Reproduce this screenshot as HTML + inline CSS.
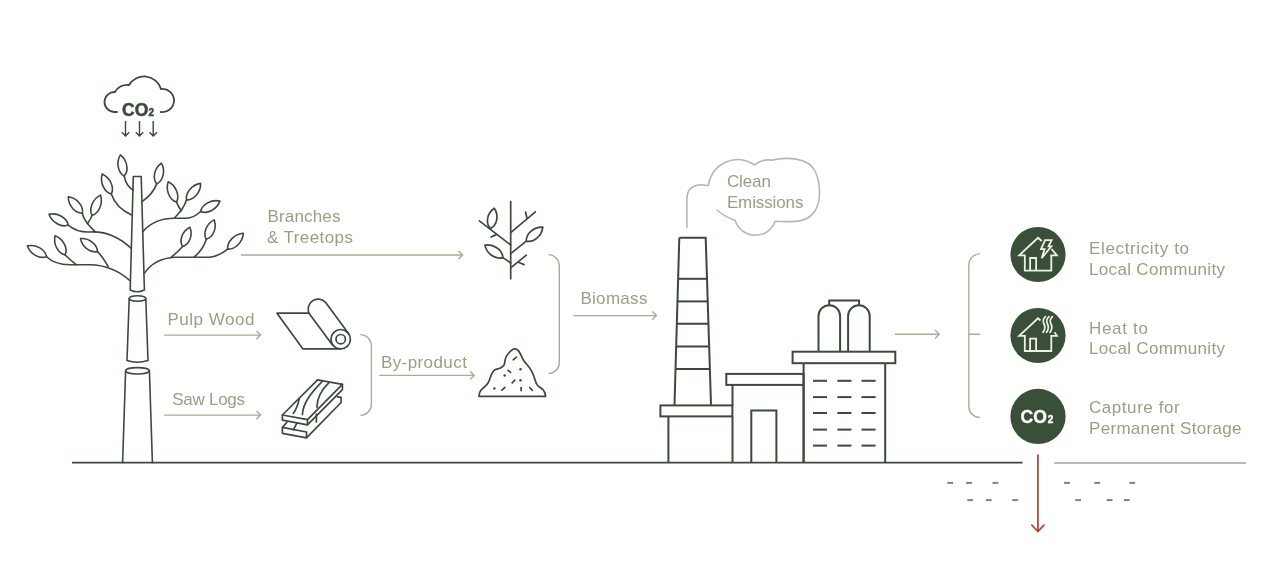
<!DOCTYPE html>
<html><head><meta charset="utf-8"><style>
html,body{margin:0;padding:0;background:#fff;width:1280px;height:575px;overflow:hidden}
svg{display:block;will-change:transform}
</style></head><body>
<svg width="1280" height="575" viewBox="0 0 1280 575">
<rect width="1280" height="575" fill="#fff"/>
<g fill="none" stroke="#3c4a3c" stroke-width="1.6" stroke-linecap="round" stroke-linejoin="round"><path d="M133.3,176.5 L141.2,176.5 L144.4,290 Q137.3,293.5 130.2,290 Z"/><path d="M129.2,298.5 L127,360.5 Q137.4,364 148,360.5 L145.8,298.5"/><ellipse cx="137.5" cy="298.5" rx="8.3" ry="2.7"/><path d="M125.6,370.8 L122.6,462.7 M149.4,370.8 L152.4,462.7"/><ellipse cx="137.5" cy="370.8" rx="11.9" ry="3.2"/><path d="M133.2,190.4 Q125.5,185 124.3,176.1"/><path d="M131.6,214.9 Q116,208 111.3,194"/><path d="M142.1,201.6 Q153,194 156.7,183.9"/><path d="M131,248.2 C118,236 105,231 90,232 C80,232.5 74,230 68.3,225.1"/><path d="M95.4,231.8 Q89,226 87.5,223.4"/><path d="M87.5,223.4 Q83,218 82.4,213.2"/><path d="M87.5,223.4 Q91,219 92,215.4"/><path d="M130.3,281 C118,270 105,265 90,264.8 L70,264.8 C60,264.5 52,262 46.6,256.7"/><path d="M76.5,264.8 Q70,260 65.2,255"/><path d="M108.2,266.5 Q102,256 97.5,251.6"/><path d="M142.6,231.9 C150,223 162,218.3 175,218.3 L185.9,218.3 C192,218 197,215 200.6,211.5"/><path d="M174.5,218 Q179,213 181.2,210.5"/><path d="M181.2,210.5 Q178,206 176.5,202.1"/><path d="M181.2,210.5 Q185,205 186.5,200.1"/><path d="M144.3,273.4 C150,265 160,258 175,257.3 L210,257.3 C218,256 223,253 227.6,249.1"/><path d="M171,257.3 Q178,252 182.6,246.6"/><path d="M194.2,257 Q203,250 206.3,239.3"/><path d="M124.3,176.1 C129.1,170.4 127.2,160.2 120.4,154.8 C115.9,162.2 117.8,172.4 124.3,176.1Z"/><path d="M111.3,194.0 C114.5,187.2 110.2,177.6 102.2,173.9 C99.7,182.3 104.1,191.9 111.3,194.0Z"/><path d="M156.7,183.9 C163.3,180.6 165.6,170.6 161.4,163.1 C154.4,168.1 152.1,178.1 156.7,183.9Z"/><path d="M68.3,225.1 C66.9,217.7 57.6,212.5 49.0,214.3 C52.0,222.5 61.3,227.7 68.3,225.1Z"/><path d="M82.4,213.2 C83.6,205.9 76.9,198.0 68.3,196.8 C68.2,205.5 75.0,213.3 82.4,213.2Z"/><path d="M92.0,215.4 C99.2,213.1 103.2,203.4 100.5,195.1 C92.7,199.0 88.6,208.7 92.0,215.4Z"/><path d="M46.6,256.7 C45.2,249.3 36.0,244.1 27.4,245.9 C30.3,254.1 39.6,259.3 46.6,256.7Z"/><path d="M65.2,255.0 C68.1,248.1 63.2,238.8 55.1,235.7 C53.1,244.1 57.9,253.4 65.2,255.0Z"/><path d="M97.5,251.6 C97.2,244.2 89.1,237.9 80.5,238.6 C82.1,247.1 90.3,253.3 97.5,251.6Z"/><path d="M200.6,211.5 C207.6,214.3 216.8,209.3 219.9,201.1 C211.4,199.2 202.1,204.2 200.6,211.5Z"/><path d="M176.5,202.1 C180.0,195.5 176.0,185.7 168.2,181.8 C165.4,190.1 169.4,199.8 176.5,202.1Z"/><path d="M186.5,200.1 C194.0,200.1 200.8,192.1 200.6,183.4 C192.0,184.7 185.2,192.7 186.5,200.1Z"/><path d="M227.6,249.1 C235.1,249.7 242.7,242.1 243.4,233.3 C234.6,234.0 227.0,241.6 227.6,249.1Z"/><path d="M182.6,246.6 C189.6,244.4 193.1,235.0 189.9,227.2 C182.3,231.0 178.8,240.3 182.6,246.6Z"/><path d="M206.3,239.3 C213.3,237.2 217.1,227.9 214.2,219.9 C206.5,223.6 202.7,232.9 206.3,239.3Z"/></g><g fill="none" stroke="#3c4a3c" stroke-width="1.8" stroke-linecap="round"><path d="M117,112 L114,112 A10,10 0 0 1 115,92 A14,14 0 0 1 129,85 A17.6,17.6 0 0 1 161,89 A11.6,11.6 0 1 1 160.8,112"/></g><g fill="none" stroke="#3c4a3c" stroke-width="1.4"><path d="M125.5,121 V136 M121.8,132.2 L125.5,136 L129.2,132.2"/><path d="M139.5,121 V136 M135.8,132.2 L139.5,136 L143.2,132.2"/><path d="M153.2,121 V136 M149.5,132.2 L153.2,136 L156.9,132.2"/></g><text x="122" y="115.7" font-family="Liberation Sans" font-weight="bold" font-size="17.5" fill="#3c4a3c" stroke="#3c4a3c" stroke-width="0.5">CO<tspan font-size="10" dx="0.3">2</tspan></text><path d="M72,462.7 H1022.6" stroke="#3c4a3c" stroke-width="1.7" fill="none"/><path d="M1054.3,463 H1245.9" stroke="#b9bbb3" stroke-width="2" fill="none"/><g fill="none" stroke="#a9ab96" stroke-width="1.35" stroke-linecap="butt" stroke-linejoin="miter"><path d="M241,255 H463 M458.4,250.8 L462.6,255 L458.4,259.2"/><path d="M164.1,335.1 H261 M256.4,330.90000000000003 L260.6,335.1 L256.4,339.3"/><path d="M164.1,415.1 H261 M256.4,410.90000000000003 L260.6,415.1 L256.4,419.3"/><path d="M379.3,375.4 H474.6 M470.0,371.2 L474.20000000000005,375.4 L470.0,379.59999999999997"/><path d="M573.4,315.6 H656.9 M652.3,311.40000000000003 L656.5,315.6 L652.3,319.8"/><path d="M895,334.2 H939.6 M935.0,330.0 L939.2,334.2 L935.0,338.4"/><path d="M360.5,334.7 A11,11 0 0 1 371.4,345.6 V404 A11,11 0 0 1 360.5,415.3"/><path d="M548.5,254.7 A11,11 0 0 1 559.3,265.6 V362.6 A11,11 0 0 1 548.5,373.6"/><path d="M979.9,253.9 A11,11 0 0 0 968.8,265 V406.4 A11,11 0 0 0 979.9,417.4 M968.8,334.2 H979.9"/></g><g font-family="Liberation Sans" font-size="17" fill="#9b9e85"><text x="267.5" y="222" textLength="73" lengthAdjust="spacing">Branches</text><text x="267" y="243" textLength="86" lengthAdjust="spacing">&amp; Treetops</text><text x="167.5" y="325.2" textLength="87" lengthAdjust="spacing">Pulp Wood</text><text x="172.3" y="404.6" textLength="72.7" lengthAdjust="spacing">Saw Logs</text><text x="380.9" y="367.6" textLength="86" lengthAdjust="spacing">By-product</text><text x="580.4" y="304.2" textLength="67" lengthAdjust="spacing">Biomass</text><text x="726.9" y="186.9" textLength="44" lengthAdjust="spacing">Clean</text><text x="726.9" y="207.7" textLength="76.5" lengthAdjust="spacing">Emissions</text><text x="1089" y="254.2" textLength="100" lengthAdjust="spacing">Electricity to</text><text x="1089" y="274.5" textLength="136" lengthAdjust="spacing">Local Community</text><text x="1089" y="333.6" textLength="59" lengthAdjust="spacing">Heat to</text><text x="1089" y="353.8" textLength="136" lengthAdjust="spacing">Local Community</text><text x="1089" y="413.2" textLength="90.6" lengthAdjust="spacing">Capture for</text><text x="1089" y="433.8" textLength="152.4" lengthAdjust="spacing">Permanent Storage</text></g><path fill="none" stroke="#b5b9b2" stroke-width="1.6" stroke-linecap="round" d="M686.9,227.4 V199 Q687,185 702,184.8 L708.3,185.7 A29.4,29.4 0 0 1 754.3,164.8 Q762,159 771.7,160.1 C786,157 808,157 815,171 C820,181 822,200 815,211 C811,217 805,220.5 797.8,221.1 Q786,222 775.2,221.3 A21.1,21.1 0 0 1 735.2,220.4 Q725,217 717,210"/><g fill="none" stroke="#3c4a3c" stroke-width="2"><path d="M679.3,237.7 H705.7 L711,404.9 M679.3,237.7 L674.5,404.9"/><path d="M678.1,278.8 H707.0"/><path d="M677.5,301.4 H707.7"/><path d="M676.8,323.8 H708.4"/><path d="M676.2,346.5 H709.1"/><path d="M675.5,368.9 H709.9"/><rect x="660.4" y="405.4" width="72" height="11"/><path d="M668.4,416.4 V462.7 M732.5,384.9 V405.4 M732.5,416.4 V462.7"/><rect x="726.3" y="373.9" width="77.3" height="11"/><path d="M803.6,384.9 V462.7"/><path d="M751.3,462.7 V410.5 H776.4 V462.7"/><rect x="792.6" y="351.7" width="102.7" height="11.5"/><path d="M803.6,363.2 V462.7 M885.2,363.2 V462.7"/><path d="M813,380.8 H827"/><path d="M837.4,380.8 H851.5"/><path d="M861.5,380.8 H875.6"/><path d="M813,397.1 H827"/><path d="M837.4,397.1 H851.5"/><path d="M861.5,397.1 H875.6"/><path d="M813,413 H827"/><path d="M837.4,413 H851.5"/><path d="M861.5,413 H875.6"/><path d="M813,429.6 H827"/><path d="M837.4,429.6 H851.5"/><path d="M861.5,429.6 H875.6"/><path d="M813,445.6 H827"/><path d="M837.4,445.6 H851.5"/><path d="M861.5,445.6 H875.6"/><path d="M818.5,351.7 V316 A10.8,10.8 0 0 1 840.1,316 V351.7"/><path d="M848.1,351.7 V316 A10.8,10.8 0 0 1 869.7,316 V351.7"/><path d="M829.2,305.5 V300.4 H859.1 V305.5"/></g><circle cx="1038" cy="254.5" r="27.6" fill="#3a4f38"/><circle cx="1038" cy="335.5" r="27.6" fill="#3a4f38"/><circle cx="1038" cy="416.4" r="27.6" fill="#3a4f38"/><g fill="none" stroke="#eef1e6" stroke-width="1.8" stroke-linejoin="miter"><path d="M1041.7,241 L1038,237.8 L1019.2,255.3 H1024.8 V270.6 H1051.3 V255.3 H1056.9 L1051.5,249"/><path d="M1030.1,270.6 V258 H1036.1 V270.6"/><path d="M1045.1,240.1 H1051.6 L1048.5,246.3 H1051.3 L1041.7,258.2 L1044.6,249.1 H1041 Z"/></g><g fill="none" stroke="#eef1e6" stroke-width="1.8" stroke-linejoin="miter"><path d="M1040.5,320.5 L1038,318.3 L1019.2,335.8 H1024.8 V351 H1051.3 V335.8 H1056.9 L1054.5,332.3"/><path d="M1030.1,351 V338.6 H1036.1 V351"/><path d="M1045.9,316.2 C1043.2,318.2 1042.6,321.5 1044.0,324 C1045.3,326.5 1045.4,329.5 1042.6,332.8"/><path d="M1049.4,316.2 C1046.7,318.2 1046.1,321.5 1047.5,324 C1048.8,326.5 1048.9,329.5 1046.1,332.8"/><path d="M1052.9,316.2 C1050.2,318.2 1049.6,321.5 1051.0,324 C1052.3,326.5 1052.4,329.5 1049.6,332.8"/></g><text x="1020.5" y="423.4" font-family="Liberation Sans" font-weight="bold" font-size="17.5" fill="#fff" stroke="#fff" stroke-width="0.4">CO<tspan font-size="10" dx="0.9">2</tspan></text><g stroke="#808080" stroke-width="2" fill="none"><path d="M947.3,482.9 h5.8"/><path d="M966.1,482.9 h5.8"/><path d="M992.5,482.9 h5.8"/><path d="M1064.1,482.9 h5.8"/><path d="M1094.3,482.9 h5.8"/><path d="M1129.4,482.9 h5.8"/><path d="M967.3,500.1 h5.8"/><path d="M985.9,500.1 h5.8"/><path d="M1012.3,500.1 h5.8"/><path d="M1075.2,500.1 h5.8"/><path d="M1106.7,500.1 h5.8"/><path d="M1123.9,500.1 h5.8"/></g><g stroke="#b4483a" stroke-width="1.8" fill="none" stroke-linecap="round"><path d="M1037.9,455.2 V531.5 M1031.9,525.2 L1037.9,531.5 L1043.9,525.2"/></g><g fill="none" stroke="#3c4a3c" stroke-width="1.7" stroke-linecap="round" stroke-linejoin="round"><path d="M308.4,313.2 H277 L302.8,348.8 H340.5"/><circle cx="340.7" cy="339.2" r="9.7"/><circle cx="340.7" cy="339.2" r="4.7"/><path d="M348.5,333.4 L325.3,302.1 A10,10 0 0 0 309.5,314.1 L332.5,345"/><path d="M282.4,415 L317.6,379.8 L342.4,384.3 L307.5,419.6 Z"/><path d="M282.4,415 V420.2 L307.5,424.8 V419.6 M307.5,424.8 L342.4,389.6 V384.3"/><path d="M282.4,427.4 V433.3 L306.5,437.8 V432 L282.4,427.4 M306.5,437.8 L341.1,402.5 V397.4 L337.5,396.8"/><path d="M299.4,398.2 C298,405 296,410 293.3,413.4"/><path d="M322.5,381.1 C312,392 303,402 302.4,414.6"/><path d="M329.2,382.3 C320,391 317,399 317,407.3"/><path d="M316.4,414 V422 M296.9,423.1 L293.3,429.8 M282.4,427.4 L287,422.3"/><path d="M510.7,201.6 V278.7"/><path d="M510.7,245 L479.4,220.8 M491.1,237 L495.8,234.9"/><path d="M510.7,232.6 L535.4,211.9 M527,218.5 L525.6,212"/><path d="M510.7,253.7 L526.3,241.2"/><path d="M510.7,263 L502.9,257.6"/><path d="M510.7,267.8 L526.3,255.2 M518.5,262.3 L524,264.6"/><path d="M490.3,228.6 C497.2,225.3 499.1,215.6 494.3,208.3 C487.1,213.2 485.2,222.9 490.3,228.6Z"/><path d="M526.3,241.2 C533.9,242.8 541.8,236.0 542.8,227.1 C533.9,226.7 525.9,233.4 526.3,241.2Z"/><path d="M502.9,257.6 C502.4,249.8 493.8,243.8 484.9,245.1 C486.8,253.9 495.4,259.9 502.9,257.6Z"/><path d="M479,396.4 H545.6 C545,391 543,389 538,386 C535,383 535,378 533.1,374.4 C531,368 527,365 524,361 C521,357 521,352 517,349.5 C514,347.5 511,350 508,354 C505,357 505,360 504.5,364 C503.5,368 499,368.5 495,369.8 C491,372 491,378 488,383 C485,388 480,389 479.5,393 Z"/><path d="M513.2,359.8 L516.4,357.2"/><path d="M508,370.3 L510.6,372.4"/><path d="M512.2,382.8 L514.8,380.2"/><path d="M501.8,390.1 L504.9,387.5"/><path d="M521.1,387.5 L521.1,390.6"/><path d="M529.7,387.5 L532.3,390.3"/></g><g fill="#3c4a3c"><circle cx="520.5" cy="369.2" r="1.2"/><circle cx="504.7" cy="375.5" r="1.2"/><circle cx="520.5" cy="380.2" r="1.2"/><circle cx="494.4" cy="388.5" r="1.2"/></g>
</svg>
</body></html>
